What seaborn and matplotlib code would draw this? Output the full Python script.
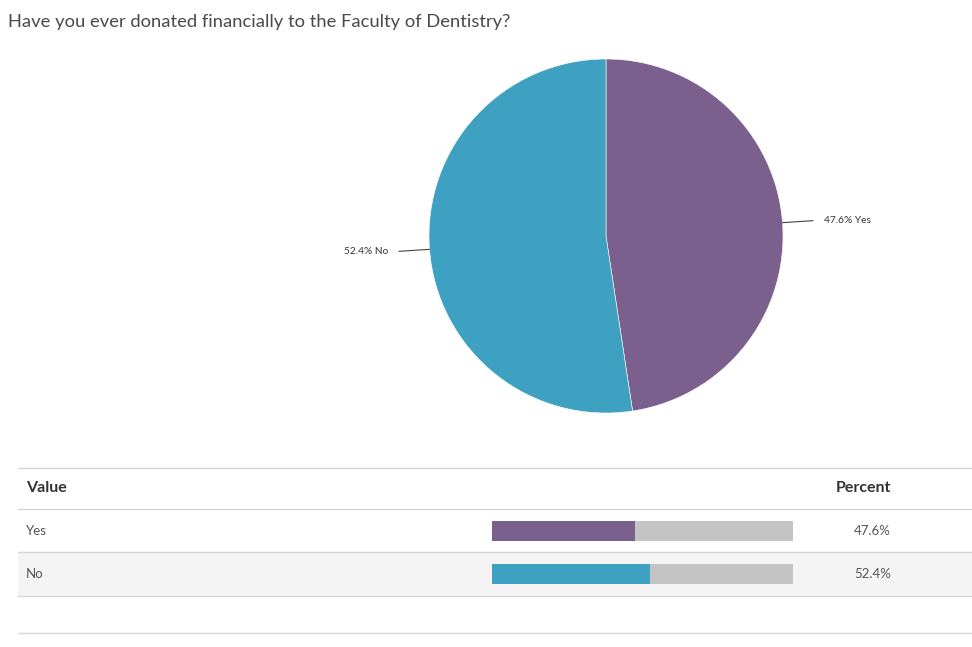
import numpy as np
import pandas as pd
import matplotlib
matplotlib.use("Agg")
import matplotlib.pyplot as plt
import seaborn as sns

# data
answers = ["Yes", "No"]
percents = [47.6, 52.4]
colors = ["#7B5F8C", "#3FA1C1"]
title = "Have you ever donated financially to the Faculty of Dentistry?"

sns.set_theme(style="white")
plt.rcParams["font.family"] = ["Lato", "DejaVu Sans"]

W, H = 972, 647
fig = plt.figure(figsize=(W / 100, H / 100), dpi=100)
fig.patch.set_facecolor("white")

# overlay in pixel coordinates for title and table frame
bg = fig.add_axes([0, 0, 1, 1], zorder=0)
bg.set_xlim(0, W)
bg.set_ylim(H, 0)
bg.axis("off")

bg.text(8, 22, title, fontsize=13.2, color="#4a4a4a", va="center", ha="left")

# table rows
row_lines = [468, 509, 552, 596, 633]
bg.fill_between([18, 972], 552, 596, color="#F4F4F4", lw=0)
for y in row_lines:
    bg.plot([18, 972], [y, y], color="#D6D6D6", lw=1)
bg.text(26, 488, "Value", fontsize=11.5, fontweight="bold", color="#333333", va="center")
bg.text(891, 488, "Percent", fontsize=11.5, fontweight="bold", color="#333333", va="center", ha="right")
row_y = [531, 574]
for ans, p, y in zip(answers, percents, row_y):
    bg.text(26, y, ans, fontsize=9.5, color="#555555", va="center")
    bg.text(891, y, f"{p:.1f}%", fontsize=9.5, color="#555555", va="center", ha="right")

# pie
cx, cy, r = 606, 236, 177
pax = fig.add_axes([(cx - r) / W, (H - cy - r) / H, 2 * r / W, 2 * r / H], zorder=1)
pax.pie(percents, colors=colors, startangle=90, counterclock=False,
        wedgeprops=dict(linewidth=0.4, edgecolor="white"))
pax.set_xlim(-1, 1)
pax.set_ylim(-1, 1)
pax.set_aspect("auto")

cum = np.cumsum([0] + percents)
for i, (ans, p) in enumerate(zip(answers, percents)):
    mid = np.deg2rad(90 - 360 * (cum[i] + p / 2) / 100)
    x0, y0 = np.cos(mid), np.sin(mid)
    side = 1 if x0 > 0 else -1
    x1, y1 = side * 1.17, y0 * 1.15
    pax.plot([x0, x1], [y0, y1], color="#444444", lw=0.8, clip_on=False)
    pax.text(x1 + side * 0.06, y1, f"{p:.1f}% {ans}", fontsize=7.3, color="#333333",
             va="center", ha="left" if side > 0 else "right")

# bars in the table
bax = fig.add_axes([492 / W, (H - 595.5) / H, 301 / W, 86 / H], zorder=2)
bax.patch.set_alpha(0)
df = pd.DataFrame({"answer": answers, "percent": percents})
sns.barplot(x=[100, 100], y=answers, color="#C4C4C4", width=0.465, ax=bax,
            saturation=1, linewidth=0)
sns.barplot(data=df, x="percent", y="answer", hue="answer", palette=colors,
            width=0.465, legend=False, ax=bax, saturation=1, linewidth=0)
bax.set_xlim(0, 100)
bax.set_ylim(1.5, -0.5)
bax.axis("off")

fig.savefig("out.png", dpi=100)
